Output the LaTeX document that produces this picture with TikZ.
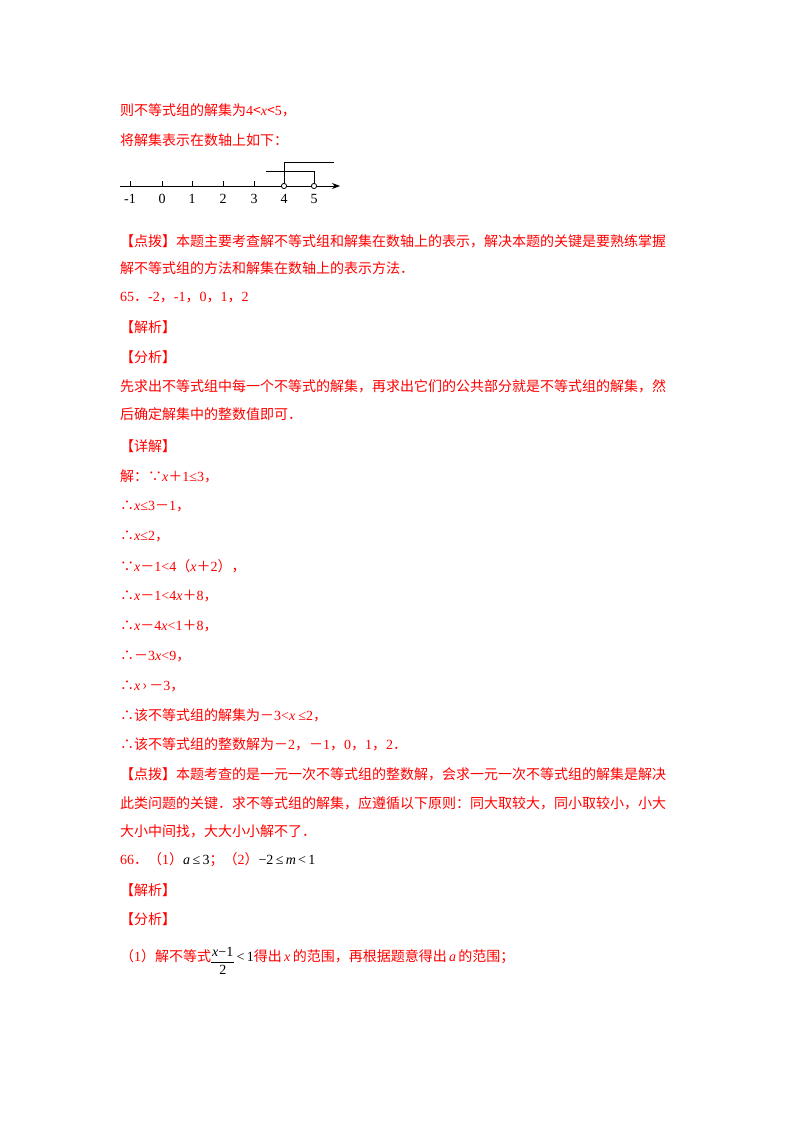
\documentclass[tikz,border=0pt]{standalone}
\usepackage{fontspec}
\setmainfont{Liberation Serif}
\newfontfamily\cjk{Noto Sans CJK SC}
\usetikzlibrary{arrows.meta}
\definecolor{rd}{RGB}{255,0,0}
\tikzset{
 ln/.style={anchor=west,inner sep=0pt,text=rd,font=\fontsize{14}{16}\selectfont\cjk},
 num/.style={inner sep=0pt,font=\fontsize{14}{16}\selectfont},
}
\newcommand{\mx}[1]{{\fontspec{Liberation Serif}\itshape #1}}
\newcommand{\mr}[1]{{\fontspec{Liberation Serif}#1}}
\begin{document}
\begin{tikzpicture}[x=1pt,y=-1pt]
\useasboundingbox[fill=white] (0,0) rectangle (800,1132);
\node[ln] (l1) at (120,110) {则不等式组的解集为\mr{4}<\mx{x}<\mr{5}，};
\node[ln] (l2) at (120,140) {将解集表示在数轴上如下：};
% number line
\coordinate (a0) at (120,186);
\coordinate (a1) at (340,186);
\draw[line width=1pt,-{Stealth[length=8pt,width=6pt]}] (a0) -- (a1);
\foreach \v/\xx in {-1/130,0/162,1/192,2/223,3/254,4/284,5/314}{
  \draw[line width=0.8pt] (\xx,186) -- (\xx,181);
  \node[num] (t\xx) at (\xx,199) {\v};
}
\coordinate (p4) at (284,162); \coordinate (q4) at (334,162);
\coordinate (p5) at (314,171); \coordinate (q5) at (266,171);
\draw[line width=0.8pt] (284,186) -- (p4) -- (q4);
\draw[line width=0.8pt] (314,186) -- (p5) -- (q5);
\draw[line width=0.8pt,fill=white] (284,186) circle (2.6);
\draw[line width=0.8pt,fill=white] (314,186) circle (2.6);
\node[ln] (l3) at (120,241) {【点拨】本题主要考查解不等式组和解集在数轴上的表示，解决本题的关键是要熟练掌握};
\node[ln] (l4) at (120,268) {解不等式组的方法和解集在数轴上的表示方法．};
\node[ln] (l5) at (120,298) {\mr{65}．\mr{-2}，\mr{-1}，\mr{0}，\mr{1}，\mr{2}};
\node[ln] (l6) at (120,327) {【解析】};
\node[ln] (l7) at (120,357) {【分析】};
\node[ln] (l8) at (120,386) {先求出不等式组中每一个不等式的解集，再求出它们的公共部分就是不等式组的解集，然};
\node[ln] (l9) at (120,414) {后确定解集中的整数值即可．};
\node[ln] (l10) at (120,446) {【详解】};
\node[ln] (l11) at (120,476) {解：∵\mx{x}＋\mr{1≤3}，};
\node[ln] (l12) at (120,506) {∴\mx{x}\mr{≤3}－\mr{1}，};
\node[ln] (l13) at (120,536) {∴\mx{x}\mr{≤2}，};
\node[ln] (l14) at (120,566) {∵\mx{x}－\mr{1<4}（\mx{x}＋\mr{2}），};
\node[ln] (l15) at (120,596) {∴\mx{x}－\mr{1<4}\mx{x}＋\mr{8}，};
\node[ln] (l16) at (120,626) {∴\mx{x}－\mr{4}\mx{x}\mr{<1}＋\mr{8}，};
\node[ln] (l17) at (120,656) {∴－\mr{3}\mx{x}\mr{<9}，};
\node[ln] (l18) at (120,686) {∴\mx{x}\,›\,－\mr{3}，};
\node[ln] (l19) at (120,715) {∴该不等式组的解集为－\mr{3<}\mx{x}\ \mr{≤2}，};
\node[ln] (l20) at (120,744) {∴该不等式组的整数解为－\mr{2}，－\mr{1}，\mr{0}，\mr{1}，\mr{2}．};
\node[ln] (l21) at (120,774) {【点拨】本题考查的是一元一次不等式组的整数解，会求一元一次不等式组的解集是解决};
\node[ln] (l22) at (120,803) {此类问题的关键．求不等式组的解集，应遵循以下原则：同大取较大，同小取较小，小大};
\node[ln] (l23) at (120,831) {大小中间找，大大小小解不了．};
\node[ln] (l24) at (120,860) {\mr{66}．（\mr{1}）\textcolor{black}{\mx{a}\,\mr{≤}\,\mr{3}}；（\mr{2}）\textcolor{black}{\mr{−2}\,\mr{≤}\,\mx{m}\,\mr{<}\,\mr{1}}};
\node[ln] (l25) at (120,890) {【解析】};
\node[ln] (l26) at (120,919) {【分析】};
\node[ln] (l27) at (120,962) {（\mr{1}）解不等式\textcolor{black}{\setlength{\tabcolsep}{1pt}\renewcommand{\arraystretch}{1.1}\raisebox{-0.5ex}{\begin{tabular}[c]{c}\mx{x}\mr{−1}\\\hline\mr{2}\end{tabular}}\,\mr{<}\,\mr{1}}得出\,\mx{x}\,的范围，再根据题意得出\,\mx{a}\,的范围；};
\end{tikzpicture}
\end{document}
